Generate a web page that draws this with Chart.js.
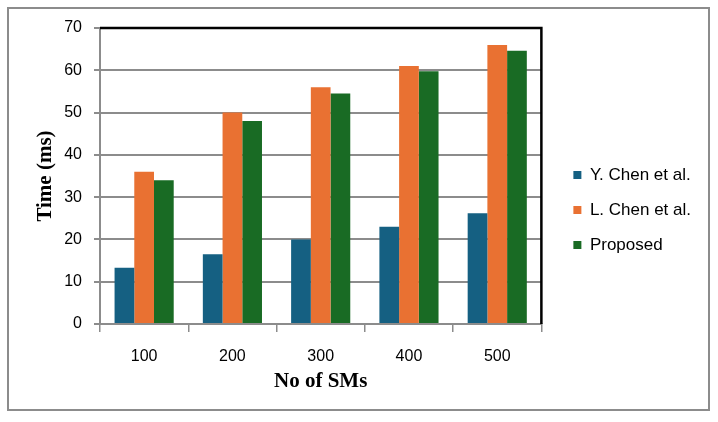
<!DOCTYPE html>
<html><head><meta charset="utf-8">
<script src="https://cdn.jsdelivr.net/npm/chart.js@4.4.1/dist/chart.umd.min.js"></script>
<style>
html,body{margin:0;padding:0;background:#fff;}
#frame{position:absolute;left:7px;top:7px;width:703px;height:404px;border:2px solid #8c8c8c;box-sizing:border-box;}
#wrap{position:absolute;left:0;top:0;width:718px;height:422px;}
</style></head><body>
<div id="frame"></div>
<div id="wrap"><canvas id="c" width="718" height="422"></canvas></div>
<script>
const categories = ["100", "200", "300", "400", "500"];
const yChen = [13.3, 16.5, 20, 23, 26.2];
const lChen = [36, 50, 56, 61, 66];
const proposed = [34, 48, 54.5, 59.8, 64.6];
const seriesNames = ["Y. Chen et al.", "L. Chen et al.", "Proposed"];
const yTicks = [0, 10, 20, 30, 40, 50, 60, 70];

const borderPlugin = {
  id: 'plotBorder',
  afterDraw(chart) {
    const a = chart.chartArea, ctx = chart.ctx;
    ctx.save();
    ctx.strokeStyle = '#000';
    ctx.lineWidth = 2.5;
    ctx.beginPath();
    ctx.moveTo(a.left, a.top);
    ctx.lineTo(a.right, a.top);
    ctx.lineTo(a.right, a.bottom);
    ctx.stroke();
    ctx.restore();
  }
};

new Chart(document.getElementById('c'), {
  type: 'bar',
  data: {
    labels: categories,
    datasets: [
      {label: seriesNames[0], data: yChen, backgroundColor: '#156082'},
      {label: seriesNames[1], data: lChen, backgroundColor: '#E97132'},
      {label: seriesNames[2], data: proposed, backgroundColor: '#196B24'}
    ]
  },
  options: {
    responsive: false,
    animation: false,
    devicePixelRatio: 1,
    layout: {padding: {left: 33, top: 28, right: 17, bottom: 30}},
    datasets: {bar: {categoryPercentage: 0.67, barPercentage: 1.0}},
    plugins: {
      legend: {
        position: 'right',
        maxWidth: 300,
        labels: {
          boxWidth: 8, boxHeight: 8, padding: 18,
          color: '#000',
          font: {family: 'Liberation Sans', size: 17}
        }
      },
      tooltip: {enabled: false}
    },
    scales: {
      x: {
        afterFit(scale) { scale.height = 68; },
        grid: {display: true, drawOnChartArea: false, offset: true, tickLength: 8, color: '#8c8c8c', lineWidth: 1.5},
        border: {color: '#8c8c8c', width: 2},
        ticks: {color: '#000', font: {family: 'Liberation Sans', size: 16}, padding: 15},
        title: {display: true, text: 'No of SMs', color: '#000', font: {family: 'Liberation Serif', size: 21, weight: 'bold', lineHeight: 1.0}, padding: {top: 0, bottom: 0}}
      },
      y: {
        min: 0, max: 70,
        afterFit(scale) { scale.width = 67; },
        afterBuildTicks(scale) { scale.ticks = yTicks.map(v => ({value: v})); },
        grid: {color: '#8c8c8c', lineWidth: 2, tickLength: 6},
        border: {color: '#8c8c8c', width: 2},
        ticks: {color: '#000', font: {family: 'Liberation Sans', size: 16}, padding: 12},
        title: {display: true, text: 'Time (ms)', color: '#000', font: {family: 'Liberation Serif', size: 21, weight: 'bold'}, padding: {top: 0, bottom: 0}}
      },
      gap: {
        position: 'right',
        display: true,
        afterFit(scale) { scale.width = 14; },
        grid: {display: false},
        border: {display: false},
        ticks: {display: false},
        title: {display: false}
      }
    }
  },
  plugins: [borderPlugin]
});
</script>
</body></html>
